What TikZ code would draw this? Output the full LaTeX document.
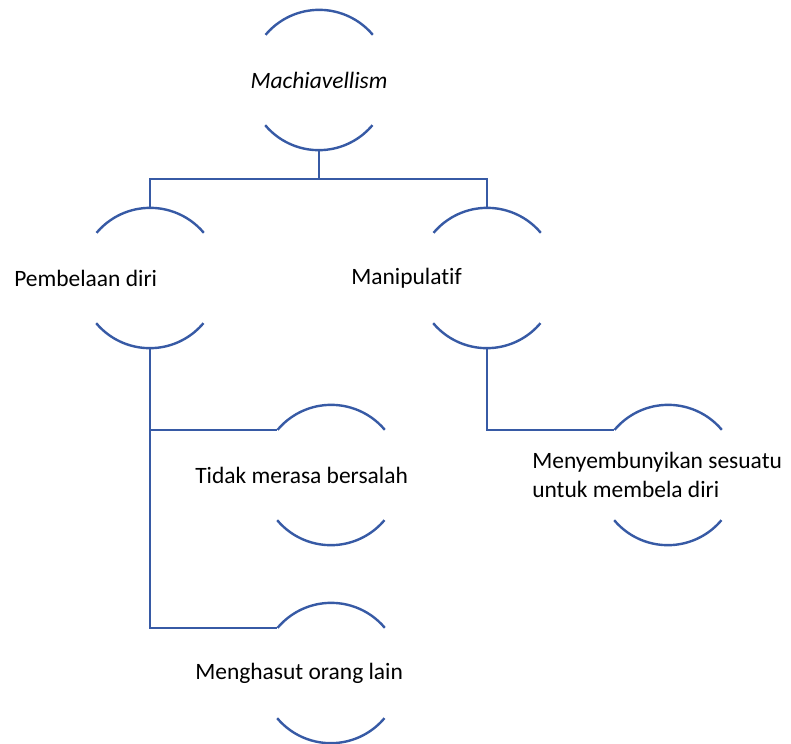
\documentclass[tikz,border=0pt]{standalone}
\usepackage{fontspec}
\setmainfont{Carlito}[Ligatures={NoCommon}]
\definecolor{arcblue}{RGB}{55,90,165}
\begin{document}
\begin{tikzpicture}[x=0.75pt,y=-0.75pt,
	arc line/.style = {draw=arcblue, line width=1.8pt},
	main node/.style = {circle, inner sep = 0pt, minimum size = 105pt},
	text node/.style = {inner sep = 0pt, align = left, font=\fontsize{17.6}{21.8}\selectfont}]
	\useasboundingbox (0,0) rectangle (791,743);
	
	\node[main node] (1) at (319,80) {};
	\node[main node] (2) at (150,278) {};
	\node[main node] (3) at (487,278) {};
	\node[main node] (4) at (331,475) {};
	\node[main node] (5) at (331,673) {};
	\node[main node] (6) at (668,475) {};
	\coordinate (7) at (319,179);
	
	\node[text node] at (1.center) {\textit{Machiavellism}};
	\node[text node,anchor=west] at ([xshift=-102pt]2.center) {Pembelaan diri};
	\node[text node,anchor=west] at ([xshift=-102pt]3.center) {Manipulatif};
	\node[text node,anchor=west] at ([xshift=-102pt]4.center) {Tidak merasa bersalah};
	\node[text node,anchor=west] at ([xshift=-102pt]5.center) {Menghasut orang lain};
	\node[text node,anchor=west] at ([xshift=-102pt]6.center) {Menyembunyikan sesuatu\\untuk membela diri};
	
	\foreach \n in {1,...,6}{
		\draw[arc line] (\n.40) arc[start angle=40, end angle=140, radius=52.5pt];
		\draw[arc line] (\n.220) arc[start angle=220, end angle=320, radius=52.5pt];
	}
	
	\draw[arc line] (1.south) -- (7);
	\draw[arc line] (2.north) |- (7) -| (3.north);
	\draw[arc line] (2.south) |- (4.140);
	\draw[arc line] (2.south) |- (5.140);
	\draw[arc line] (3.south) |- (6.140);
	
\end{tikzpicture}
\end{document}
